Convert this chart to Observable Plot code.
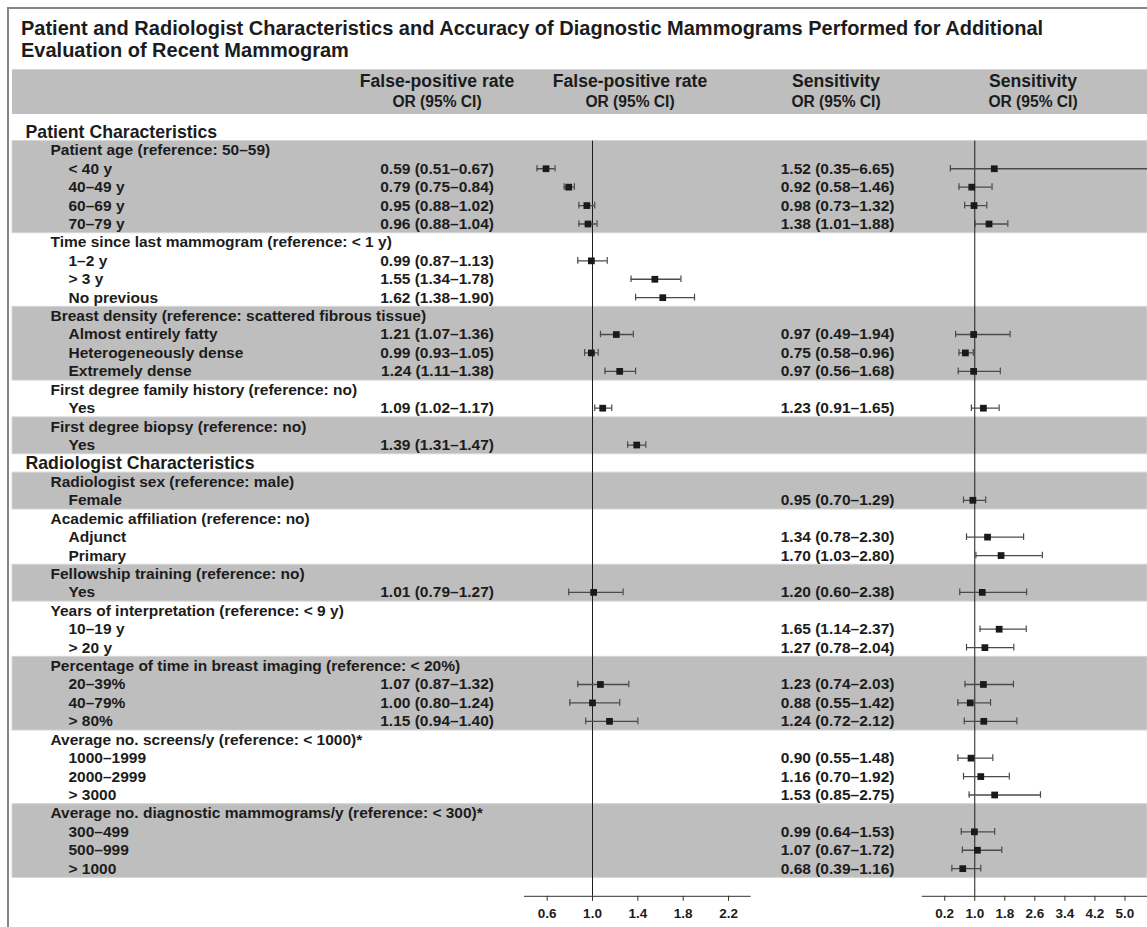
<!DOCTYPE html>
<html>
<head>
<meta charset="utf-8">
<script src="https://cdn.jsdelivr.net/npm/d3@7"></script>
<script src="https://cdn.jsdelivr.net/npm/@observablehq/plot@0.6"></script>
<style>
html, body { margin: 0; padding: 0; background: #fff; overflow: hidden; }
#wrap { position: relative; width: 1147px; height: 927px; overflow: hidden;
  font-family: "Liberation Sans", Arial, Helvetica, sans-serif; font-weight: bold; color: #1c1c1c; }
#frameL { position: absolute; left: 7px; top: 7px; width: 2px; height: 920px; background: #858585; }
#frameT { position: absolute; left: 7px; top: 7px; width: 1140px; height: 1.5px; background: #858585; }
#title { position: absolute; left: 21px; top: 17px; font-size: 20px; line-height: 22px; white-space: nowrap; }
#header { position: absolute; left: 12px; top: 69px; width: 1135px; height: 45px; background: #bebebe;
  border-top: 1px solid #d6d6d6; box-sizing: border-box; }
.h { position: absolute; white-space: nowrap; transform: translateX(-50%); }
.h1 { font-size: 17.6px; line-height: 17.6px; top: 2.7px; }
.h2 { font-size: 15.6px; line-height: 15.6px; top: 23.9px; }
.layer { position: absolute; left: 0; top: 0; }
</style>
</head>
<body>
<div id="wrap">
  <div id="frameL"></div>
  <div id="frameT"></div>
  <div id="title">Patient and Radiologist Characteristics and Accuracy of Diagnostic Mammograms Performed for Additional<br>Evaluation of Recent Mammogram</div>
  <div id="header"></div>
</div>
<script>
// ---------------- data ----------------
const headerTitles = ["False-positive rate", "False-positive rate", "Sensitivity", "Sensitivity"];
const headerSub = "OR (95% CI)";

const rowLabels = [
  "Patient Characteristics",
  "Patient age (reference: 50–59)", "< 40 y", "40–49 y", "60–69 y", "70–79 y",
  "Time since last mammogram (reference: < 1 y)", "1–2 y", "> 3 y", "No previous",
  "Breast density (reference: scattered fibrous tissue)", "Almost entirely fatty", "Heterogeneously dense", "Extremely dense",
  "First degree family history (reference: no)", "Yes",
  "First degree biopsy (reference: no)", "Yes",
  "Radiologist Characteristics",
  "Radiologist sex (reference: male)", "Female",
  "Academic affiliation (reference: no)", "Adjunct", "Primary",
  "Fellowship training (reference: no)", "Yes",
  "Years of interpretation (reference: < 9 y)", "10–19 y", "> 20 y",
  "Percentage of time in breast imaging (reference: < 20%)", "20–39%", "40–79%", "> 80%",
  "Average no. screens/y (reference: < 1000)*", "1000–1999", "2000–2999", "> 3000",
  "Average no. diagnostic mammograms/y (reference: < 300)*", "300–499", "500–999", "> 1000"
];
// 0 = section, 1 = group header, 2 = item
const rowLevels = [
  0,
  1, 2, 2, 2, 2,
  1, 2, 2, 2,
  1, 2, 2, 2,
  1, 2,
  1, 2,
  0,
  1, 2,
  1, 2, 2,
  1, 2,
  1, 2, 2,
  1, 2, 2, 2,
  1, 2, 2, 2,
  1, 2, 2, 2
];

const fpOR = [
  null,
  null, 0.59, 0.79, 0.95, 0.96,
  null, 0.99, 1.55, 1.62,
  null, 1.21, 0.99, 1.24,
  null, 1.09,
  null, 1.39,
  null,
  null, null,
  null, null, null,
  null, 1.01,
  null, null, null,
  null, 1.07, 1.00, 1.15,
  null, null, null, null,
  null, null, null, null
];
const fpLo = [
  null,
  null, 0.51, 0.75, 0.88, 0.88,
  null, 0.87, 1.34, 1.38,
  null, 1.07, 0.93, 1.11,
  null, 1.02,
  null, 1.31,
  null,
  null, null,
  null, null, null,
  null, 0.79,
  null, null, null,
  null, 0.87, 0.80, 0.94,
  null, null, null, null,
  null, null, null, null
];
const fpHi = [
  null,
  null, 0.67, 0.84, 1.02, 1.04,
  null, 1.13, 1.78, 1.90,
  null, 1.36, 1.05, 1.38,
  null, 1.17,
  null, 1.47,
  null,
  null, null,
  null, null, null,
  null, 1.27,
  null, null, null,
  null, 1.32, 1.24, 1.40,
  null, null, null, null,
  null, null, null, null
];

const snOR = [
  null,
  null, 1.52, 0.92, 0.98, 1.38,
  null, null, null, null,
  null, 0.97, 0.75, 0.97,
  null, 1.23,
  null, null,
  null,
  null, 0.95,
  null, 1.34, 1.70,
  null, 1.20,
  null, 1.65, 1.27,
  null, 1.23, 0.88, 1.24,
  null, 0.90, 1.16, 1.53,
  null, 0.99, 1.07, 0.68
];
const snLo = [
  null,
  null, 0.35, 0.58, 0.73, 1.01,
  null, null, null, null,
  null, 0.49, 0.58, 0.56,
  null, 0.91,
  null, null,
  null,
  null, 0.70,
  null, 0.78, 1.03,
  null, 0.60,
  null, 1.14, 0.78,
  null, 0.74, 0.55, 0.72,
  null, 0.55, 0.70, 0.85,
  null, 0.64, 0.67, 0.39
];
const snHi = [
  null,
  null, 6.65, 1.46, 1.32, 1.88,
  null, null, null, null,
  null, 1.94, 0.96, 1.68,
  null, 1.65,
  null, null,
  null,
  null, 1.29,
  null, 2.30, 2.80,
  null, 2.38,
  null, 2.37, 2.04,
  null, 2.03, 1.42, 2.12,
  null, 1.48, 1.92, 2.75,
  null, 1.53, 1.72, 1.16
];

const fpTicks = [0.6, 1.0, 1.4, 1.8, 2.2];
const snTicks = [0.2, 1.0, 1.8, 2.6, 3.4, 4.2, 5.0];

// ---------------- derived table ----------------
const f2 = d3.format(".2f");
const rows = rowLabels.map((label, i) => ({
  i, label, level: rowLevels[i],
  fp: fpOR[i], fpLo: fpLo[i], fpHi: fpHi[i],
  sn: snOR[i], snLo: snLo[i], snHi: snHi[i]
}));
// alternate shading of groups within each section
const spans = [];
{
  let g = -1, cur = null;
  for (const r of rows) {
    if (r.level === 0) { g = -1; cur = null; continue; }
    if (r.level === 1) {
      g++;
      cur = {g, first: r.i, last: r.i};
      if (g % 2 === 0) spans.push(cur);
    } else if (cur) cur.last = r.i;
  }
}
const fpRows = rows.filter(d => d.fp != null);
const snRows = rows.filter(d => d.sn != null);
const ciText = (o, l, h) => `${f2(o)} (${f2(l)}–${f2(h)})`;

// ---------------- layout ----------------
const W = 1147, H = 927;
const MT = 122.2, MB = 31.2;
const yScale = {domain: [-0.5, 41.5], reverse: true, axis: null};
const baseStyle = {
  background: "transparent",
  fontFamily: '"Liberation Sans", Arial, Helvetica, sans-serif',
  fontWeight: "bold",
  color: "#1c1c1c",
  overflow: "hidden"
};
const wrap = document.getElementById("wrap");

// header text
const header = document.getElementById("header");
const headerCenters = [425, 618, 824, 1021];
headerTitles.forEach((t, k) => {
  const a = document.createElement("div");
  a.className = "h h1"; a.style.left = headerCenters[k] + "px"; a.textContent = t;
  const b = document.createElement("div");
  b.className = "h h2"; b.style.left = headerCenters[k] + "px"; b.textContent = headerSub;
  header.appendChild(a); header.appendChild(b);
});

function addLayer(svg) {
  const d = document.createElement("div");
  d.className = "layer";
  d.appendChild(svg);
  wrap.appendChild(d);
}

// Layer A: bands and table text
addLayer(Plot.plot({
  width: W, height: H,
  marginTop: MT, marginBottom: MB, marginLeft: 0, marginRight: 0,
  x: {type: "identity", axis: null},
  y: yScale,
  style: {...baseStyle, fontSize: "15.5px"},
  marks: [
    Plot.rect(spans, {x1: 12, x2: W, y1: d => d.first - 0.5, y2: d => d.last + 0.5,
      fill: "#bebebe", stroke: "#d4d4d4", strokeWidth: 1}),
    Plot.text(rows.filter(d => d.level === 0), {x: 25, y: "i", text: "label", textAnchor: "start", fontSize: 17.7, fill: "#1c1c1c"}),
    Plot.text(rows.filter(d => d.level === 1), {x: 50, y: "i", text: "label", textAnchor: "start", fontSize: 15.5, fill: "#1c1c1c"}),
    Plot.text(rows.filter(d => d.level === 2), {x: 68, y: "i", text: "label", textAnchor: "start", fontSize: 15.5, fill: "#1c1c1c"}),
    Plot.text(fpRows, {x: 493.5, y: "i", text: d => ciText(d.fp, d.fpLo, d.fpHi), textAnchor: "end", fontSize: 15.5, fill: "#1c1c1c"}),
    Plot.text(snRows, {x: 894, y: "i", text: d => ciText(d.sn, d.snLo, d.snHi), textAnchor: "end", fontSize: 15.5, fill: "#1c1c1c"})
  ]
}));

function forest(data, key, domain, ml, mr, ticks) {
  const lo = key + "Lo", hi = key + "Hi";
  return Plot.plot({
    width: W, height: H,
    marginTop: MT, marginBottom: MB, marginLeft: ml, marginRight: mr,
    x: {domain, axis: null},
    y: yScale,
    style: {...baseStyle, fontSize: "13.5px"},
    marks: [
      Plot.ruleX([1], {y1: 0.5, y2: 41.5, stroke: "#1c1c1c", strokeWidth: 1}),
      Plot.ruleY(data, {y: "i", x1: lo, x2: hi, stroke: "#4a4a4a", strokeWidth: 1.3, clip: true}),
      Plot.ruleX(data, {x: lo, y1: d => d.i - 0.18, y2: d => d.i + 0.18, stroke: "#4a4a4a", strokeWidth: 1.2, clip: true}),
      Plot.ruleX(data, {x: hi, y1: d => d.i - 0.18, y2: d => d.i + 0.18, stroke: "#4a4a4a", strokeWidth: 1.2, clip: true}),
      Plot.dot(data, {x: key, y: "i", symbol: "square", r: 3.8, fill: "#1a1a1a"}),
      Plot.ruleY([41.5], {stroke: "#333", strokeWidth: 1}),
      Plot.axisX({ticks, tickFormat: d3.format(".1f"), tickSize: 5, tickPadding: 7.5,
        fontSize: 13.5, fontWeight: "bold", stroke: "#333", fill: "#1c1c1c", label: null})
    ]
  });
}

// Layer B: false-positive rate forest plot
addLayer(forest(fpRows, "fp", [0.4, 2.4], 524, W - 750.7, fpTicks));
// Layer C: sensitivity forest plot
addLayer(forest(snRows, "sn", [-0.4, 5.6], 921.7, 0, snTicks));
</script>
</body>
</html>
